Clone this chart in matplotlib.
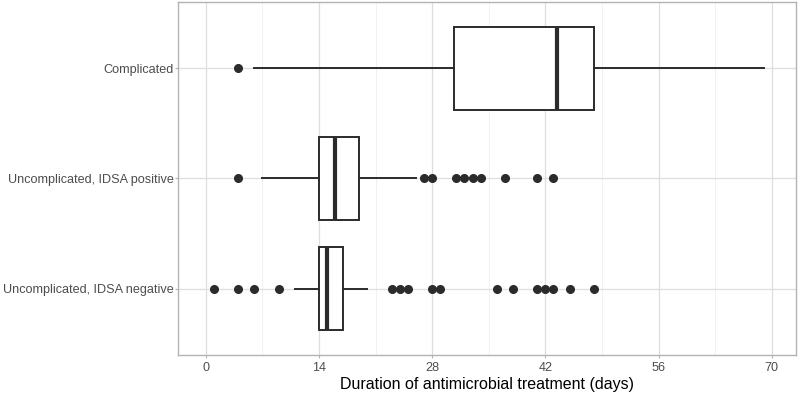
import matplotlib
matplotlib.use("Agg")
import matplotlib.pyplot as plt
import numpy as np

plt.rcParams['font.family'] = ['Liberation Sans', 'DejaVu Sans']

# groups, bottom to top
groups = ["Uncomplicated, IDSA negative", "Uncomplicated, IDSA positive", "Complicated"]

# five-number summaries (days)
whis_lo = [11, 7, 6]
q1 = [14, 14, 30.7]
median = [15, 16, 43.4]
q3 = [17, 19, 48]
whis_hi = [20, 26, 69]

# outliers per group
fliers_neg = [1, 4, 6, 9, 23, 24, 25, 28, 29, 36, 38, 41, 42, 43, 45, 48]
fliers_pos = [4, 27, 28, 31, 32, 33, 34, 37, 41, 43]
fliers_comp = [4]
fliers = [fliers_neg, fliers_pos, fliers_comp]

xticks = [0, 14, 28, 42, 56, 70]

stats = []
for i in range(len(groups)):
  stats.append({
    "whislo": whis_lo[i], "q1": q1[i], "med": median[i],
    "q3": q3[i], "whishi": whis_hi[i], "fliers": fliers[i],
  })

fig = plt.figure(figsize=(7.99, 3.94), dpi=100)
ax = fig.add_axes([0.2232, 0.099, 0.773, 0.896])

line_col = "#2b2b2b"
ax.bxp(
  stats, positions=[1, 2, 3], vert=False, widths=0.75, patch_artist=True,
  showcaps=False,
  boxprops=dict(facecolor="white", edgecolor=line_col, linewidth=1.4),
  medianprops=dict(color=line_col, linewidth=3),
  whiskerprops=dict(color=line_col, linewidth=1.4),
  flierprops=dict(marker="o", markerfacecolor=line_col, markeredgecolor=line_col, markersize=5.5),
  zorder=3,
)

ax.set_xlim(-3.39, 73.0)
ax.set_ylim(0.4, 3.6)
ax.set_xticks(xticks)
ax.set_xticks([7, 21, 35, 49, 63], minor=True)
ax.set_yticks([1, 2, 3])
ax.set_yticklabels(groups)
ax.grid(True, which="major", color="#dedede", linewidth=0.9, zorder=0)
ax.grid(True, which="minor", axis="x", color="#efefef", linewidth=0.6, zorder=0)
ax.set_axisbelow(True)
ax.tick_params(which="major", length=2, width=0.8, color="#b3b3b3",
               labelsize=9.1, labelcolor="#4d4d4d", pad=1.5)
ax.tick_params(axis="x", which="major", pad=3)
ax.tick_params(which="minor", length=0)
for s in ax.spines.values():
  s.set_color("#b3b3b3")
  s.set_linewidth(1.0)

ax.set_xlabel("Duration of antimicrobial treatment (days)", fontsize=11.5, color="black", labelpad=2)

fig.savefig("out.png", dpi=100)
